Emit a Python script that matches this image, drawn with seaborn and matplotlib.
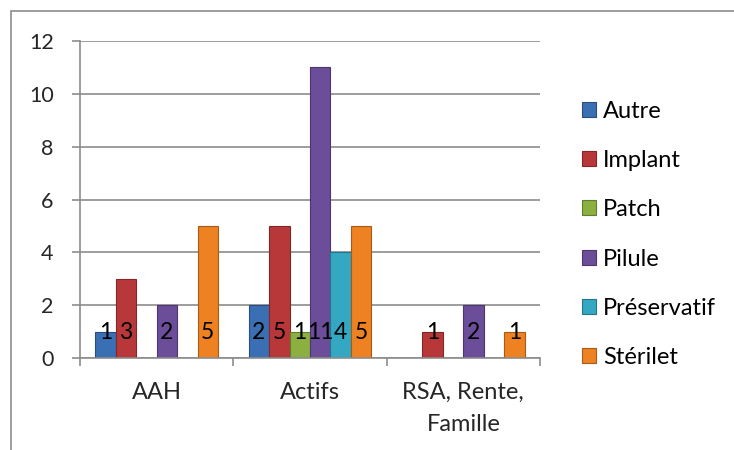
import pandas as pd
import matplotlib.pyplot as plt
import seaborn as sns
from matplotlib.patches import Rectangle
from matplotlib.colors import to_rgb

categories = ["AAH", "Actifs", "RSA, Rente,\nFamille"]
series = ["Autre", "Implant", "Patch", "Pilule", "Préservatif", "Stérilet"]

autre = [1, 2, 0]
implant = [3, 5, 1]
patch = [0, 1, 0]
pilule = [2, 11, 2]
preservatif = [0, 4, 0]
sterilet = [5, 5, 1]

colors = ["#3A6FB3", "#B8383A", "#8CB040", "#6C4D9A", "#34A7C3", "#EE8222"]


def main():
    df = build_frame()
    draw(df)


def build_frame():
    values = [autre, implant, patch, pilule, preservatif, sterilet]
    rows = []
    for name, vals in zip(series, values):
        for cat, v in zip(categories, vals):
            rows.append({"categorie": cat, "moyen": name, "n": v})
    return pd.DataFrame(rows)


def draw(df):
    sns.set_theme(style="white")
    plt.rcParams["font.family"] = ["Lato", "DejaVu Sans"]
    plt.rcParams["text.color"] = "black"

    fig = plt.figure(figsize=(7.34, 4.5), dpi=100)
    ax = fig.add_axes([80 / 734, 92 / 450, 460 / 734, 317 / 450])

    sns.barplot(data=df, x="categorie", y="n", hue="moyen", order=categories,
                hue_order=series, palette=colors, width=0.8, saturation=1,
                linewidth=0, legend=False, ax=ax)

    # darker edges and data labels at the base of each bar
    for cont, col in zip(ax.containers, colors):
        dark = tuple(c * 0.7 for c in to_rgb(col))
        for p in cont.patches:
            h = p.get_height()
            if not h:
                continue
            p.set_edgecolor(dark)
            p.set_linewidth(0.8)
            ax.annotate(f"{int(h)}", (p.get_x() + p.get_width() / 2, 0),
                        xytext=(0, 11), textcoords="offset points",
                        ha="center", va="bottom", fontsize=16.5, zorder=5)

    grid = "#8C8C8C"
    ax.set_ylim(0, 12)
    ax.set_yticks(range(0, 13, 2))
    ax.set_xlim(-0.5, 2.5)
    ax.yaxis.grid(True, color=grid, linewidth=1.2)
    ax.set_axisbelow(True)
    for s in ["top", "right"]:
        ax.spines[s].set_visible(False)
    for s in ["left", "bottom"]:
        ax.spines[s].set_color(grid)
        ax.spines[s].set_linewidth(1.2)

    ax.set_xlabel("")
    ax.set_ylabel("")
    ax.tick_params(axis="y", left=True, length=6, width=1.2, color=grid,
                   pad=13, labelsize=15.5)
    ax.tick_params(axis="x", bottom=False, pad=11, labelsize=17)
    for lab in ax.get_xticklabels():
        lab.set_linespacing(1.65)
    ax.set_xticks([-0.5, 0.5, 1.5, 2.5], minor=True)
    ax.tick_params(axis="x", which="minor", bottom=True, length=6, width=1.2,
                   color=grid)

    handles = [Rectangle((0, 0), 1, 1, facecolor=c,
                         edgecolor=tuple(x * 0.7 for x in to_rgb(c)), linewidth=0.8)
               for c in colors]
    fig.legend(handles, series, loc="center left", bbox_to_anchor=(0.777, 0.479),
               frameon=False, fontsize=17, handlelength=0.6, handleheight=0.6,
               handletextpad=0.3, labelspacing=1.2, borderpad=0)

    # outer chart frame (cut off at right and bottom)
    fig.patches.append(Rectangle((11 / 734, -0.1), 1.2, 1 - 11 / 450 + 0.1,
                                 transform=fig.transFigure, fill=False,
                                 edgecolor="#8C8C8C", linewidth=1.2))

    fig.savefig("out.png", dpi=100)


if __name__ == "__main__":
    main()
